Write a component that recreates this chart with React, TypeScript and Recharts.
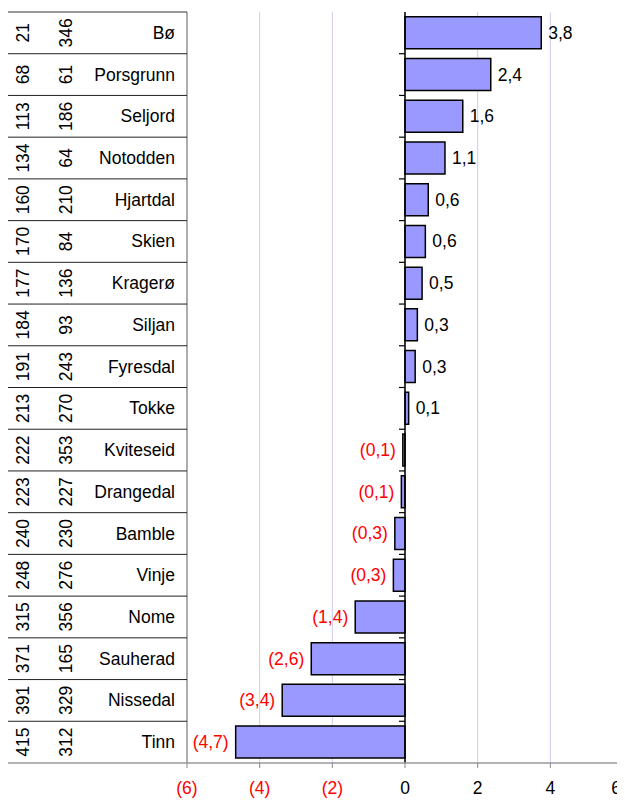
import { BarChart, Bar, XAxis, YAxis, CartesianGrid, ReferenceLine, LabelList } from 'recharts'

const names = ['Bø', 'Porsgrunn', 'Seljord', 'Notodden', 'Hjartdal', 'Skien', 'Kragerø', 'Siljan', 'Fyresdal', 'Tokke', 'Kviteseid', 'Drangedal', 'Bamble', 'Vinje', 'Nome', 'Sauherad', 'Nissedal', 'Tinn']
const rankA = [21, 68, 113, 134, 160, 170, 177, 184, 191, 213, 222, 223, 240, 248, 315, 371, 391, 415]
const rankB = [346, 61, 186, 64, 210, 84, 136, 93, 243, 270, 353, 227, 230, 276, 356, 165, 329, 312]
const values = [3.75, 2.36, 1.59, 1.1, 0.64, 0.56, 0.47, 0.34, 0.28, 0.1, -0.06, -0.1, -0.28, -0.32, -1.37, -2.58, -3.38, -4.66]
const xTicks = [-6, -4, -2, 0, 2, 4, 6]

const W = 615
const H = 790
const TOP = 4
const AXIS_H = 35
const Y_W = 179
const BAND = (H - TOP - AXIS_H) / names.length
const FONT = '"Liberation Sans", Arial, sans-serif'
const RED = '#ff0000'

// values shown with one decimal, negatives in parentheses
const fmt = (v: number) => {
  const s = Math.abs(v).toFixed(1).replace('.', ',')
  return v < 0 ? `(${s})` : s
}
const fmtTick = (v: number) => (v < 0 ? `(${-v})` : `${v}`)

function RowTick(props: any) {
  const { y, payload } = props
  const i = names.indexOf(payload.value)
  const half = BAND / 2
  return (
    <g>
      <text transform={`translate(15,${y}) rotate(-90)`} textAnchor="middle" dominantBaseline="central" fontSize={17.5} fill="#000">{rankA[i]}</text>
      <text transform={`translate(58,${y}) rotate(-90)`} textAnchor="middle" dominantBaseline="central" fontSize={17.5} fill="#000">{rankB[i]}</text>
      <text x={167} y={y} textAnchor="end" dominantBaseline="central" fontSize={17.5} fill="#000">{names[i]}</text>
      {i === 0 && <line x1={0} x2={Y_W} y1={y - half} y2={y - half} stroke="#333" />}
      {i < names.length - 1 && <line x1={0} x2={Y_W} y1={y + half} y2={y + half} stroke="#222" />}
      {i === names.length - 1 && <line x1={0} x2={Y_W} y1={y + half} y2={y + half} stroke="#999" strokeWidth={1.5} />}
    </g>
  )
}

function XTick(props: any) {
  const { x, y, payload } = props
  const v = payload.value
  // keep the last label inside the page edge
  const tx = Math.min(x, W - 7)
  return (
    <text x={tx} y={y + 24} textAnchor="middle" fontSize={17.5} fill={v < 0 ? RED : '#000'}>{fmtTick(v)}</text>
  )
}

function ValueLabel(props: any) {
  const { x, y, width, height, value } = props
  const neg = value < 0
  const end = neg ? Math.min(x, x + width) : Math.max(x, x + width)
  return (
    <text x={neg ? end - 7 : end + 7} y={y + height / 2} textAnchor={neg ? 'end' : 'start'} dominantBaseline="central" fontSize={17.5} fill={neg ? RED : '#000'}>{fmt(value)}</text>
  )
}

function ZeroLine(props: any) {
  const { x1, y1, y2 } = props
  if (x1 == null) return null
  const n = names.length
  return (
    <g>
      <line x1={x1} x2={x1} y1={y1} y2={y2} stroke="#000" strokeWidth={1.5} />
      {names.map((_, i) => {
        const yy = y1 + (i * (y2 - y1)) / n
        return i === 0 ? null : <line key={i} x1={x1 - 6} x2={x1} y1={yy} y2={yy} stroke="#000" strokeWidth={1.2} />
      })}
    </g>
  )
}

export default function App() {
  const data = names.map((name, i) => ({ name, value: values[i] }))

  return (
    <div style={{ fontFamily: FONT }}>
      <BarChart width={W} height={H} data={data} layout="vertical" margin={{ top: TOP, right: 0, left: 0, bottom: 0 }} barCategoryGap="11.5%" style={{ fontFamily: FONT }}>
        <CartesianGrid horizontal={false} stroke="#ccccf5" />
        <XAxis type="number" domain={[-6, 6]} ticks={xTicks} interval={0} height={AXIS_H} tick={<XTick />} tickSize={5} tickLine={{ stroke: '#888' }} axisLine={{ stroke: '#999', strokeWidth: 1.5 }} allowDataOverflow />
        <XAxis xAxisId="top" type="number" orientation="top" domain={[-6, 6]} height={0} tick={false} tickLine={false} axisLine={{ stroke: '#999', strokeWidth: 1.5 }} />
        <YAxis type="category" dataKey="name" width={Y_W} interval={0} tick={<RowTick />} tickLine={false} axisLine={{ stroke: '#999', strokeWidth: 1.5 }} />
        <ReferenceLine x={0} shape={(p: any) => <ZeroLine {...p} />} />
        <Bar dataKey="value" fill="#9999ff" stroke="#000" strokeWidth={1.5} isAnimationActive={false}>
          <LabelList dataKey="value" content={<ValueLabel />} />
        </Bar>
      </BarChart>
    </div>
  )
}
